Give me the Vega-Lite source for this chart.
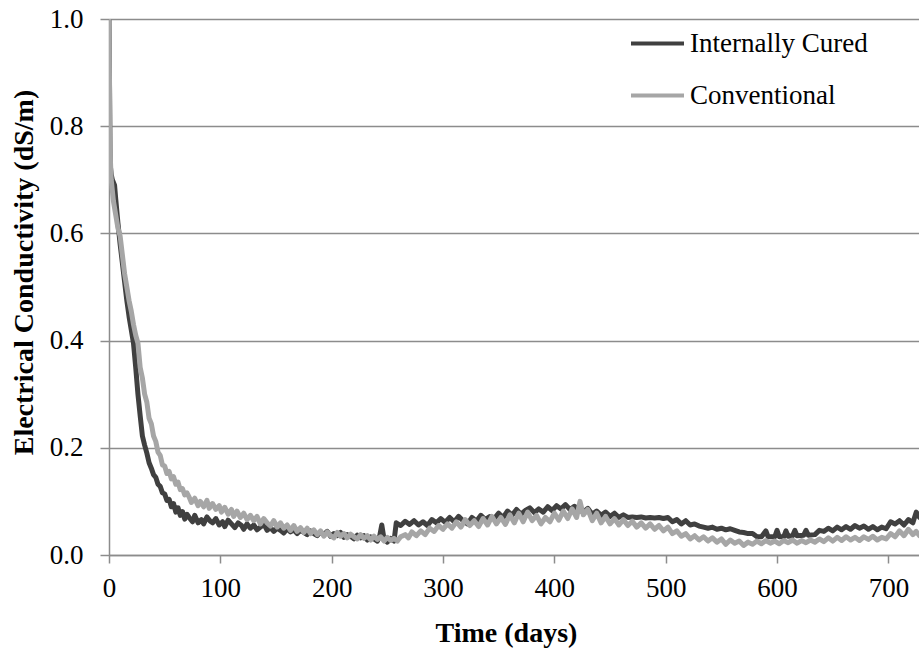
{
  "$schema": "https://vega.github.io/schema/vega-lite/v6.json",
  "width": 810,
  "height": 536,
  "autosize": {"type": "none"},
  "padding": {"left": 109, "top": 19, "right": 0, "bottom": 98},
  "background": "white",
  "config": {
    "view": {"stroke": null},
    "font": "Liberation Serif",
    "style": {
      "guide-label": {"font": "Times New Roman, Liberation Serif, serif"},
      "guide-title": {"font": "Liberation Serif"}
    },
    "axis": {
      "labelFont": "Times New Roman, Liberation Serif, serif",
      "titleFont": "Liberation Serif",
      "labelFontSize": 27,
      "titleFontSize": 28,
      "labelColor": "black",
      "titleColor": "black",
      "titleFontWeight": "bold",
      "domainColor": "#8c8c8c",
      "domainWidth": 1.5,
      "tickColor": "#8c8c8c",
      "tickWidth": 1.5,
      "gridColor": "#8c8c8c",
      "gridWidth": 1.5
    }
  },
  "datasets": {
    "ic": [
      {"t":0,"v":1.0},{"t":1,"v":0.73},{"t":2,"v":0.71},{"t":3,"v":0.70},{"t":5,"v":0.69},{"t":6,"v":0.665},{"t":8,"v":0.62},{"t":10,"v":0.58},{"t":12,"v":0.545},{"t":14,"v":0.51},{"t":16,"v":0.475},{"t":18,"v":0.445},{"t":20,"v":0.42},{"t":22,"v":0.395},{"t":24,"v":0.35},{"t":26,"v":0.30},{"t":28,"v":0.26},{"t":30,"v":0.222},{"t":32,"v":0.205},{"t":34,"v":0.19},{"t":36,"v":0.172},{"t":38,"v":0.162},{"t":40,"v":0.15},{"t":42,"v":0.145},{"t":44,"v":0.132},{"t":46,"v":0.128},{"t":48,"v":0.116},{"t":50,"v":0.114},{"t":52,"v":0.102},{"t":54,"v":0.104},{"t":56,"v":0.09},{"t":58,"v":0.096},{"t":60,"v":0.08},{"t":62,"v":0.088},{"t":64,"v":0.074},{"t":66,"v":0.081},{"t":68,"v":0.067},{"t":70,"v":0.076},
      {"t":72,"v":0.07},{"t":75,"v":0.062},{"t":77,"v":0.074},{"t":80,"v":0.06},{"t":83,"v":0.066},{"t":85,"v":0.058},{"t":88,"v":0.071},{"t":91,"v":0.063},{"t":93,"v":0.06},{"t":96,"v":0.068},{"t":99,"v":0.056},{"t":102,"v":0.062},{"t":104,"v":0.053},{"t":107,"v":0.065},{"t":110,"v":0.058},{"t":113,"v":0.051},{"t":116,"v":0.06},{"t":119,"v":0.055},{"t":121,"v":0.048},{"t":124,"v":0.058},{"t":127,"v":0.05},{"t":130,"v":0.056},{"t":133,"v":0.047},{"t":136,"v":0.052},{"t":139,"v":0.058},{"t":142,"v":0.046},{"t":145,"v":0.051},{"t":148,"v":0.044},{"t":151,"v":0.05},{"t":154,"v":0.046},{"t":157,"v":0.041},{"t":160,"v":0.049},{"t":163,"v":0.043},{"t":166,"v":0.047},{"t":169,"v":0.04},{"t":172,"v":0.046},{"t":175,"v":0.042},{"t":178,"v":0.038},{"t":181,"v":0.045},{"t":184,"v":0.04},{"t":187,"v":0.036},{"t":190,"v":0.043},{"t":193,"v":0.038},{"t":196,"v":0.044},{"t":199,"v":0.035},{"t":202,"v":0.04},{"t":205,"v":0.036},{"t":208,"v":0.042},{"t":211,"v":0.033},{"t":214,"v":0.038},{"t":217,"v":0.035},{"t":220,"v":0.03},{"t":223,"v":0.037},{"t":226,"v":0.032},{"t":229,"v":0.036},{"t":232,"v":0.028},{"t":235,"v":0.034},{"t":238,"v":0.03},{"t":241,"v":0.026},{"t":243,"v":0.034},{"t":245,"v":0.056},{"t":247,"v":0.03},{"t":250,"v":0.024},{"t":253,"v":0.031},{"t":256,"v":0.026},
      {"t":258,"v":0.06},{"t":262,"v":0.055},{"t":266,"v":0.063},{"t":270,"v":0.057},{"t":274,"v":0.064},{"t":278,"v":0.056},{"t":282,"v":0.062},{"t":286,"v":0.055},{"t":290,"v":0.066},{"t":294,"v":0.06},{"t":298,"v":0.068},{"t":302,"v":0.061},{"t":306,"v":0.07},{"t":310,"v":0.062},{"t":314,"v":0.072},{"t":318,"v":0.064},{"t":322,"v":0.058},{"t":326,"v":0.07},{"t":330,"v":0.063},{"t":334,"v":0.074},{"t":338,"v":0.066},{"t":342,"v":0.072},{"t":346,"v":0.068},{"t":350,"v":0.078},{"t":354,"v":0.07},{"t":358,"v":0.082},{"t":362,"v":0.074},{"t":366,"v":0.085},{"t":370,"v":0.076},{"t":374,"v":0.083},{"t":378,"v":0.088},{"t":382,"v":0.079},{"t":386,"v":0.086},{"t":390,"v":0.08},{"t":394,"v":0.09},{"t":398,"v":0.083},{"t":402,"v":0.092},{"t":406,"v":0.086},{"t":410,"v":0.094},{"t":414,"v":0.085},{"t":418,"v":0.091},{"t":422,"v":0.084},{"t":426,"v":0.08},{"t":430,"v":0.087},{"t":434,"v":0.076},{"t":438,"v":0.082},{"t":442,"v":0.074},{"t":446,"v":0.08},{"t":450,"v":0.072},{"t":454,"v":0.078},{"t":458,"v":0.07},{"t":462,"v":0.075},{"t":466,"v":0.07},{"t":470,"v":0.071},{"t":474,"v":0.07},{"t":478,"v":0.071},{"t":482,"v":0.069},{"t":486,"v":0.07},{"t":490,"v":0.069},{"t":494,"v":0.07},{"t":498,"v":0.068},{"t":502,"v":0.07},{"t":506,"v":0.062},{"t":510,"v":0.066},{"t":514,"v":0.058},{"t":518,"v":0.064},{"t":522,"v":0.056},{"t":526,"v":0.058},{"t":530,"v":0.054},{"t":534,"v":0.052},{"t":538,"v":0.05},{"t":542,"v":0.052},{"t":546,"v":0.048},{"t":550,"v":0.05},{"t":554,"v":0.047},{"t":558,"v":0.049},{"t":562,"v":0.046},{"t":566,"v":0.043},{"t":570,"v":0.042},{"t":574,"v":0.04},{"t":578,"v":0.04},{"t":582,"v":0.034},{"t":586,"v":0.034},{"t":590,"v":0.045},{"t":592,"v":0.034},{"t":598,"v":0.034},{"t":600,"v":0.046},{"t":602,"v":0.034},{"t":606,"v":0.034},{"t":608,"v":0.045},{"t":610,"v":0.035},{"t":614,"v":0.036},{"t":616,"v":0.046},{"t":618,"v":0.036},{"t":624,"v":0.037},{"t":626,"v":0.046},{"t":628,"v":0.037},{"t":634,"v":0.038},{"t":638,"v":0.046},{"t":642,"v":0.044},{"t":646,"v":0.05},{"t":650,"v":0.045},{"t":654,"v":0.052},{"t":658,"v":0.047},{"t":662,"v":0.053},{"t":666,"v":0.048},{"t":670,"v":0.055},{"t":674,"v":0.05},{"t":678,"v":0.054},{"t":682,"v":0.048},{"t":686,"v":0.053},{"t":690,"v":0.047},{"t":694,"v":0.052},{"t":698,"v":0.049},{"t":702,"v":0.062},{"t":706,"v":0.058},{"t":710,"v":0.064},{"t":714,"v":0.056},{"t":718,"v":0.066},{"t":722,"v":0.06},{"t":725,"v":0.08},{"t":728,"v":0.07}
    ],
    "conv": [
      {"t":0,"v":1.0},{"t":1,"v":0.75},{"t":2,"v":0.70},{"t":4,"v":0.66},{"t":6,"v":0.635},{"t":8,"v":0.61},{"t":10,"v":0.595},{"t":12,"v":0.56},{"t":14,"v":0.525},{"t":16,"v":0.5},{"t":18,"v":0.475},{"t":20,"v":0.455},{"t":22,"v":0.43},{"t":24,"v":0.41},{"t":26,"v":0.395},{"t":28,"v":0.35},{"t":30,"v":0.33},{"t":32,"v":0.3},{"t":34,"v":0.285},{"t":36,"v":0.255},{"t":38,"v":0.245},{"t":40,"v":0.222},{"t":42,"v":0.212},{"t":44,"v":0.192},{"t":46,"v":0.186},{"t":48,"v":0.168},{"t":50,"v":0.166},{"t":52,"v":0.152},{"t":54,"v":0.156},{"t":56,"v":0.142},{"t":58,"v":0.146},{"t":60,"v":0.132},{"t":62,"v":0.136},{"t":64,"v":0.122},{"t":66,"v":0.124},{"t":68,"v":0.112},{"t":70,"v":0.116},
      {"t":72,"v":0.108},{"t":74,"v":0.098},{"t":77,"v":0.106},{"t":80,"v":0.092},{"t":82,"v":0.1},{"t":85,"v":0.09},{"t":88,"v":0.102},{"t":90,"v":0.087},{"t":93,"v":0.096},{"t":96,"v":0.085},{"t":99,"v":0.092},{"t":101,"v":0.08},{"t":104,"v":0.089},{"t":107,"v":0.076},{"t":110,"v":0.085},{"t":112,"v":0.072},{"t":115,"v":0.082},{"t":118,"v":0.07},{"t":121,"v":0.078},{"t":124,"v":0.066},{"t":127,"v":0.074},{"t":130,"v":0.064},{"t":133,"v":0.072},{"t":136,"v":0.058},{"t":139,"v":0.068},{"t":142,"v":0.06},{"t":145,"v":0.054},{"t":148,"v":0.064},{"t":151,"v":0.052},{"t":154,"v":0.06},{"t":157,"v":0.05},{"t":160,"v":0.056},{"t":163,"v":0.046},{"t":166,"v":0.055},{"t":169,"v":0.044},{"t":172,"v":0.051},{"t":175,"v":0.042},{"t":178,"v":0.05},{"t":181,"v":0.04},{"t":184,"v":0.047},{"t":187,"v":0.038},{"t":190,"v":0.045},{"t":193,"v":0.035},{"t":196,"v":0.043},{"t":199,"v":0.036},{"t":202,"v":0.032},{"t":205,"v":0.042},{"t":208,"v":0.035},{"t":211,"v":0.04},{"t":214,"v":0.032},{"t":217,"v":0.039},{"t":220,"v":0.034},{"t":223,"v":0.03},{"t":226,"v":0.038},{"t":229,"v":0.031},{"t":232,"v":0.036},{"t":235,"v":0.028},{"t":238,"v":0.035},{"t":241,"v":0.029},{"t":244,"v":0.034},{"t":247,"v":0.026},{"t":250,"v":0.033},{"t":253,"v":0.027},{"t":256,"v":0.031},{"t":259,"v":0.026},{"t":262,"v":0.034},
      {"t":266,"v":0.038},{"t":269,"v":0.032},{"t":272,"v":0.043},{"t":276,"v":0.036},{"t":280,"v":0.045},{"t":284,"v":0.038},{"t":288,"v":0.05},{"t":292,"v":0.044},{"t":296,"v":0.055},{"t":300,"v":0.048},{"t":304,"v":0.058},{"t":308,"v":0.05},{"t":312,"v":0.062},{"t":316,"v":0.052},{"t":320,"v":0.066},{"t":324,"v":0.055},{"t":328,"v":0.064},{"t":332,"v":0.053},{"t":336,"v":0.068},{"t":340,"v":0.056},{"t":344,"v":0.072},{"t":348,"v":0.058},{"t":352,"v":0.07},{"t":356,"v":0.057},{"t":360,"v":0.075},{"t":364,"v":0.06},{"t":368,"v":0.078},{"t":372,"v":0.062},{"t":376,"v":0.08},{"t":380,"v":0.064},{"t":384,"v":0.074},{"t":388,"v":0.058},{"t":392,"v":0.07},{"t":396,"v":0.062},{"t":400,"v":0.078},{"t":404,"v":0.065},{"t":408,"v":0.082},{"t":412,"v":0.068},{"t":416,"v":0.086},{"t":420,"v":0.07},{"t":423,"v":0.1},{"t":426,"v":0.075},{"t":430,"v":0.085},{"t":434,"v":0.064},{"t":438,"v":0.078},{"t":442,"v":0.06},{"t":446,"v":0.072},{"t":450,"v":0.058},{"t":454,"v":0.068},{"t":458,"v":0.056},{"t":462,"v":0.066},{"t":466,"v":0.055},{"t":470,"v":0.063},{"t":474,"v":0.052},{"t":478,"v":0.06},{"t":482,"v":0.05},{"t":486,"v":0.058},{"t":490,"v":0.048},{"t":494,"v":0.055},{"t":498,"v":0.045},{"t":502,"v":0.052},{"t":506,"v":0.04},{"t":510,"v":0.045},{"t":514,"v":0.035},{"t":518,"v":0.04},{"t":522,"v":0.03},{"t":526,"v":0.036},{"t":530,"v":0.028},{"t":534,"v":0.034},{"t":538,"v":0.026},{"t":542,"v":0.032},{"t":546,"v":0.024},{"t":550,"v":0.03},{"t":554,"v":0.02},{"t":558,"v":0.028},{"t":562,"v":0.022},{"t":566,"v":0.026},{"t":570,"v":0.018},{"t":574,"v":0.024},{"t":578,"v":0.02},{"t":582,"v":0.026},{"t":586,"v":0.021},{"t":590,"v":0.027},{"t":594,"v":0.022},{"t":598,"v":0.026},{"t":602,"v":0.021},{"t":606,"v":0.027},{"t":610,"v":0.023},{"t":614,"v":0.028},{"t":618,"v":0.022},{"t":622,"v":0.027},{"t":626,"v":0.023},{"t":630,"v":0.028},{"t":634,"v":0.024},{"t":638,"v":0.03},{"t":642,"v":0.025},{"t":646,"v":0.032},{"t":650,"v":0.026},{"t":654,"v":0.033},{"t":658,"v":0.027},{"t":662,"v":0.034},{"t":666,"v":0.028},{"t":670,"v":0.033},{"t":674,"v":0.027},{"t":678,"v":0.034},{"t":682,"v":0.029},{"t":686,"v":0.035},{"t":690,"v":0.028},{"t":694,"v":0.033},{"t":698,"v":0.03},{"t":702,"v":0.04},{"t":706,"v":0.034},{"t":710,"v":0.045},{"t":714,"v":0.036},{"t":718,"v":0.048},{"t":722,"v":0.038},{"t":725,"v":0.044},{"t":728,"v":0.036}
    ]
  },
  "encoding": {
    "x": {
      "field": "t", "type": "quantitative",
      "scale": {"domain": [0, 727.5], "nice": false, "zero": false},
      "axis": {"title": "Time (days)", "values": [0,100,200,300,400,500,600,700], "grid": false, "tickSize": 8, "labelPadding": 12, "titlePadding": 18, "titleX": 397, "titleAlign": "center", "labelFlush": false, "labelOverlap": false}
    },
    "y": {
      "field": "v", "type": "quantitative",
      "scale": {"domain": [0, 1], "nice": false},
      "axis": {"title": "Electrical Conductivity (dS/m)", "values": [0,0.2,0.4,0.6,0.8,1.0], "format": ".1f", "grid": true, "tickSize": 9, "labelPadding": 17, "titlePadding": 11, "titleY": 253, "titleAlign": "center", "labelFlush": false}
    },
    "color": {
      "datum": "Internally Cured", "type": "nominal",
      "scale": {"domain": ["Internally Cured", "Conventional"], "range": ["#404040", "#a6a6a6"]},
      "legend": {"title": null, "orient": "none", "legendX": 520, "legendY": -4, "padding": 0, "symbolType": "stroke", "symbolSize": 2809, "symbolStrokeWidth": 4, "labelFont": "serif", "labelFontSize": 27, "labelColor": "black", "labelOffset": 4, "rowPadding": 10, "labelLimit": 400}
    }
  },
  "layer": [
    {"data": {"name": "ic"}, "mark": {"type": "line", "strokeWidth": 5, "strokeJoin": "round", "strokeCap": "round", "clip": true}},
    {"data": {"name": "conv"}, "mark": {"type": "line", "strokeWidth": 5, "strokeJoin": "round", "strokeCap": "round", "clip": true}, "encoding": {"color": {"datum": "Conventional", "type": "nominal"}}}
  ]
}
